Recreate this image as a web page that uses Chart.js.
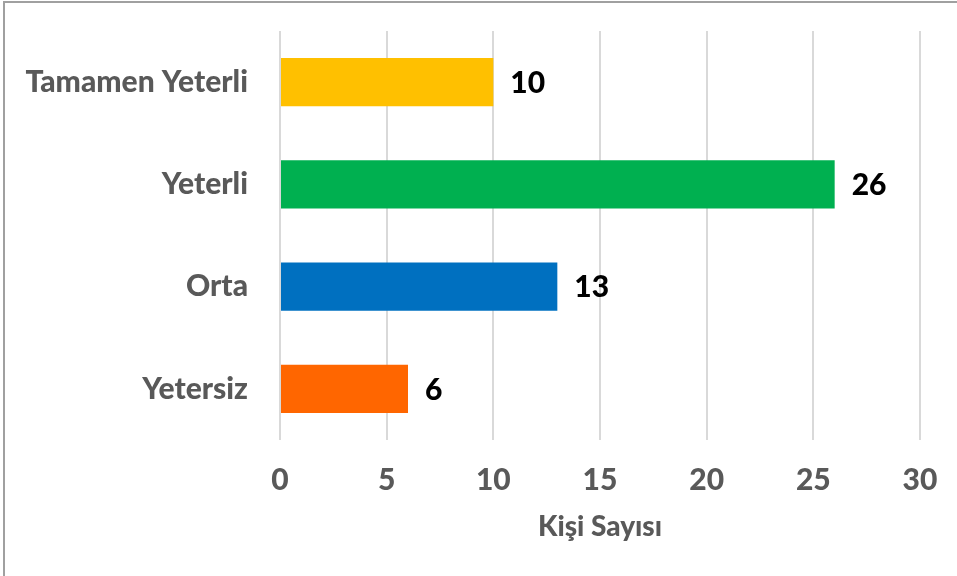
<!DOCTYPE html>
<html lang="tr">
<head>
  <meta charset="UTF-8">
  <title>Kişi Sayısı</title>
  <script src="https://cdn.jsdelivr.net/npm/chart.js"></script>
  <style>
    html, body { margin: 0; padding: 0; background: #fff; }
    #wrap { position: relative; width: 957px; height: 576px; }
  </style>
</head>
<body>
  <div id="wrap"><canvas id="chart" width="957" height="576"></canvas></div>

  <script>
    // data
    const categories = ['Tamamen Yeterli', 'Yeterli', 'Orta', 'Yetersiz'];
    const values = [10, 26, 13, 6];
    const barColors = ['#FFC000', '#00B050', '#0070C0', '#FF6600'];
    const xTicks = [0, 5, 10, 15, 20, 25, 30];
    const axisTitle = 'Kişi Sayısı';

    const FONT = 'Lato, "Open Sans", sans-serif';

    // value labels at the bar ends
    const valueLabels = {
      id: 'valueLabels',
      afterDatasetsDraw(chart) {
        const ctx = chart.ctx;
        const meta = chart.getDatasetMeta(0);
        ctx.save();
        ctx.font = '900 30px ' + FONT;
        ctx.fillStyle = '#000';
        ctx.textAlign = 'left';
        ctx.textBaseline = 'middle';
        meta.data.forEach((bar, i) => {
          ctx.fillText(String(values[i]), bar.x + 17, bar.y + 1);
        });
        ctx.restore();
      }
    };

    // frame line of the picture (top and left)
    const frame = {
      id: 'frame',
      afterDraw(chart) {
        const ctx = chart.ctx;
        ctx.save();
        ctx.strokeStyle = '#a0a0a0';
        ctx.lineWidth = 2;
        ctx.beginPath();
        ctx.moveTo(4, chart.height);
        ctx.lineTo(4, 2);
        ctx.lineTo(chart.width, 2);
        ctx.stroke();
        ctx.restore();
      }
    };

    new Chart(document.getElementById('chart'), {
      type: 'bar',
      data: {
        labels: categories,
        datasets: [{
          data: values,
          backgroundColor: barColors,
          borderWidth: 0,
          barPercentage: 0.47,
          categoryPercentage: 1
        }]
      },
      options: {
        indexAxis: 'y',
        responsive: false,
        animation: false,
        layout: { padding: { left: 0, right: 37, top: 31, bottom: 0 } },
        plugins: {
          legend: { display: false },
          tooltip: { enabled: false }
        },
        scales: {
          x: {
            min: 0,
            max: 30,
            afterBuildTicks(axis) { axis.ticks = xTicks.map(v => ({ value: v })); },
            afterFit(axis) {
              axis.height = 136;
              axis.paddingLeft = 0;
              axis.paddingRight = 0;
            },
            grid: {
              color: '#d9d9d9',
              lineWidth: 2,
              drawTicks: false
            },
            border: { display: false },
            ticks: {
              padding: 22,
              color: '#595959',
              font: { family: FONT, size: 30, weight: 900 }
            },
            title: {
              display: true,
              text: axisTitle,
              color: '#595959',
              font: { family: FONT, size: 28, weight: 900 },
              padding: { top: 0, bottom: 32 }
            }
          },
          y: {
            afterFit(axis) {
              axis.width = 280;
              axis.paddingTop = 0;
              axis.paddingBottom = 0;
            },
            grid: { display: false, drawTicks: false },
            border: { display: false },
            ticks: {
              padding: 32,
              color: '#595959',
              font: { family: FONT, size: 30, weight: 900 }
            }
          }
        }
      },
      plugins: [valueLabels, frame]
    });
  </script>
</body>
</html>
